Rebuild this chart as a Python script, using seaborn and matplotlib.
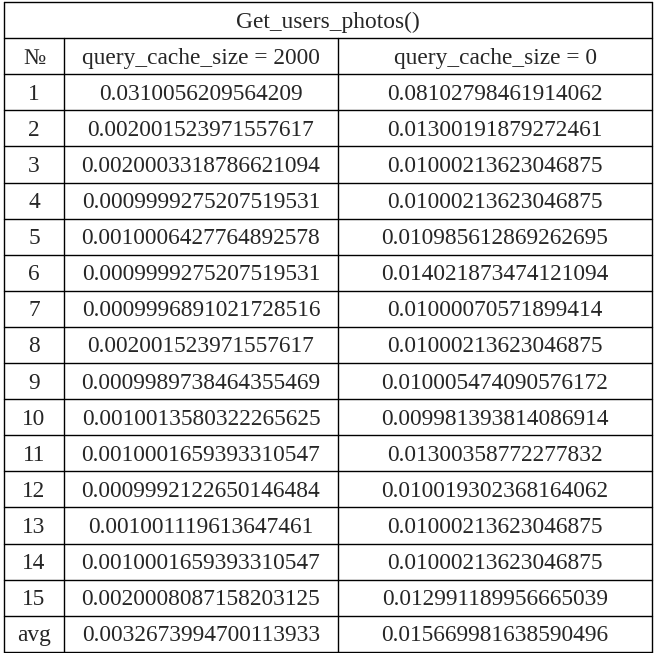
import matplotlib
matplotlib.use("Agg")
import matplotlib.pyplot as plt
import seaborn as sns

sns.set_theme(style="white")
plt.rcParams['font.family'] = ['Liberation Serif', 'DejaVu Serif']

title = "Get_users_photos()"
headers = ["№", "query_cache_size = 2000", "query_cache_size = 0"]
row_labels = [str(i) for i in range(1, 16)] + ["avg"]
cache_2000 = ["0.0310056209564209", "0.002001523971557617", "0.0020003318786621094",
              "0.0009999275207519531", "0.0010006427764892578", "0.0009999275207519531",
              "0.0009996891021728516", "0.002001523971557617", "0.0009989738464355469",
              "0.0010013580322265625", "0.0010001659393310547", "0.0009992122650146484",
              "0.001001119613647461", "0.0010001659393310547", "0.0020008087158203125",
              "0.0032673994700113933"]
cache_0 = ["0.08102798461914062", "0.01300191879272461", "0.010002136230468750"[:19],
           "0.01000213623046875", "0.010985612869262695", "0.014021873474121094",
           "0.01000070571899414", "0.01000213623046875", "0.010005474090576172",
           "0.009981393814086914", "0.01300358772277832", "0.010019302368164062",
           "0.01000213623046875", "0.01000213623046875", "0.012991189956665039",
           "0.015669981638590496"]

W, H = 656, 653
fig = plt.figure(figsize=(W / 100, H / 100), dpi=100)
ax = fig.add_axes([0, 0, 1, 1])
ax.set_xlim(0, W)
ax.set_ylim(H, 0)
ax.axis('off')

left, right = 4, 652
col_x = [left, 64, 338, right]
top = 2
row_h = 36.1
n_rows = 2 + len(row_labels)
row_y = [top + i * row_h for i in range(n_rows + 1)]

lw = 1.0
for y in row_y:
    ax.plot([left, right], [y, y], color='black', lw=lw)
ax.plot([left, left], [row_y[0], row_y[-1]], color='black', lw=lw)
ax.plot([right, right], [row_y[0], row_y[-1]], color='black', lw=lw)
for x in col_x[1:3]:
    ax.plot([x, x], [row_y[1], row_y[-1]], color='black', lw=lw)

fs = 16.8
dy = 2
ax.text((left + right) / 2, (row_y[0] + row_y[1]) / 2 + dy, title, ha='center', va='center', fontsize=fs)
for j, h in enumerate(headers):
    ax.text((col_x[j] + col_x[j + 1]) / 2, (row_y[1] + row_y[2]) / 2 + dy, h,
            ha='center', va='center', fontsize=fs)
for i, (lab, a, b) in enumerate(zip(row_labels, cache_2000, cache_0)):
    yc = (row_y[i + 2] + row_y[i + 3]) / 2 + dy
    for j, t in enumerate([lab, a, b]):
        ax.text((col_x[j] + col_x[j + 1]) / 2, yc, t, ha='center', va='center', fontsize=fs)

fig.savefig("out.png", dpi=100, facecolor='white')
